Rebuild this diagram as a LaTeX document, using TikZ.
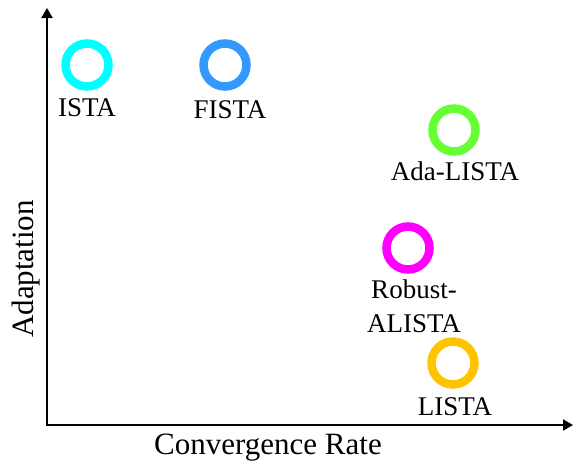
\documentclass[tikz,border=0pt]{standalone}
\usepackage{fontspec}
\setmainfont{Liberation Serif}
\usepackage{xcolor}
\usetikzlibrary{arrows.meta}

\definecolor{istacol}{RGB}{0,255,255}
\definecolor{fistacol}{RGB}{51,153,255}
\definecolor{adacol}{RGB}{102,255,51}
\definecolor{robustcol}{RGB}{255,0,255}
\definecolor{listacol}{RGB}{255,196,0}

\begin{document}
\begin{tikzpicture}[x=1pt, y=-1pt,
  algo/.style={circle, draw, line width=8.5pt, minimum size=43pt, inner sep=0pt},
  lbl/.style={anchor=base, inner sep=0pt, font=\fontsize{27}{34}\selectfont, align=center},
  axlbl/.style={anchor=base, inner sep=0pt, font=\fontsize{31}{36}\selectfont},
  axis/.style={{Triangle[length=10pt,width=11pt]}-{Triangle[length=10pt,width=11pt]}, line width=2pt}
]
  \useasboundingbox (0,0) rectangle (581,464);

  % Axes
  \coordinate (origin) at (47,425);
  \coordinate (xend) at (573,425);
  \coordinate (yend) at (47,8);
  \draw[axis] (yend) -- (origin) -- (xend);
  \node[axlbl] (xlbl) at (268,454) {Convergence Rate};
  \node[axlbl, rotate=90] (ylbl) at (33,269) {Adaptation};

  % Algorithms
  \node[algo, draw=istacol] (ista) at (87,65) {};
  \node[lbl] (ista-lbl) at (87,116) {ISTA};

  \node[algo, draw=fistacol] (fista) at (225,65) {};
  \node[lbl] (fista-lbl) at (230,118) {FISTA};

  \node[algo, draw=adacol] (ada) at (454,130) {};
  \node[lbl] (ada-lbl) at (455,180) {Ada-LISTA};

  \node[algo, draw=robustcol] (robust) at (408,248) {};
  \node[lbl] (robust-lbl) at (414,332) {Robust-\\ALISTA};

  \node[algo, draw=listacol] (lista) at (453,363) {};
  \node[lbl] (lista-lbl) at (455,415) {LISTA};
\end{tikzpicture}
\end{document}
